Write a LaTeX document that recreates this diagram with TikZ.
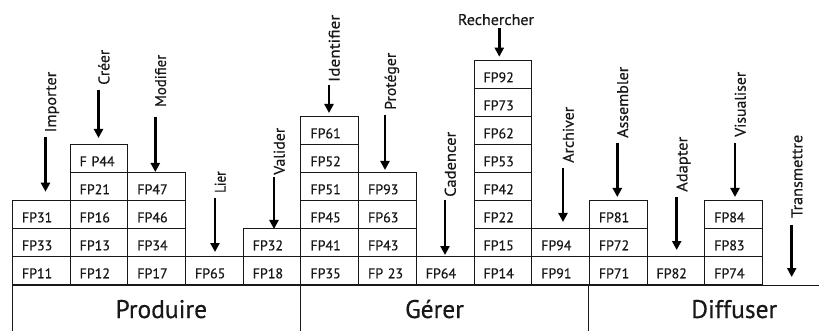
\documentclass[tikz,border=0pt]{standalone}
\usepackage{fontspec}
\setmainfont{PT Sans}[FakeBold=0.5]
\usetikzlibrary{arrows.meta}
\definecolor{ink}{HTML}{1A1718}
\newcommand{\fitlab}[2]{\resizebox{#1}{\height}{#2}}
\begin{document}
\begin{tikzpicture}[x=1pt,y=-1pt,
  fpbox/.style={draw=ink, line width=0.9pt, anchor=south west,
    minimum width=57.69pt, minimum height=28pt, inner xsep=9.5pt, inner ysep=0pt,
    text width=38.69pt, align=left, text height=15.4pt, text depth=0pt,
    font=\fontsize{14}{16}\selectfont, text=ink},
  vlab/.style={rotate=90, anchor=north west, inner sep=0pt,
    font=\fontsize{15.5}{18}\selectfont, text=ink},
  hlab/.style={anchor=base, inner sep=0pt, font=\fontsize{15.5}{18}\selectfont, text=ink},
  biglab/.style={anchor=base, inner sep=0pt, font=\fontsize{25.5}{30}\selectfont, text=ink},
  arr/.style={line width=2.6pt, draw=black, -{Triangle[length=9pt,width=9pt]}},
  baseline/.style={draw=ink, line width=0.9pt}]
\useasboundingbox (0,0) rectangle (819,331);
% stacks
\foreach \c/\lst in {1/{FP11,FP33,FP31},
                     2/{FP12,FP13,FP16,FP21,F P44},
                     3/{FP17,FP34,FP46,FP47},
                     4/{FP65},
                     5/{FP18,FP32},
                     6/{FP35,FP41,FP45,FP51,FP52,FP61},
                     7/{FP 23,FP43,FP63,FP93},
                     8/{FP64},
                     9/{FP14,FP15,FP22,FP42,FP53,FP62,FP73,FP92},
                     10/{FP91,FP94},
                     11/{FP71,FP72,FP81},
                     12/{FP82},
                     13/{FP74,FP83,FP84}}{
  \foreach \t [count=\r] in \lst {
    \node[fpbox, name=b\c-\r] at ({12+57.69*(\c-1)},{285-28*(\r-1)}) {\t};
  }
}
% base
\coordinate (bl) at (12,285);
\coordinate (br) at (819,285);
\coordinate (v1t) at (12,285);   \coordinate (v1b) at (12,335);
\coordinate (v2t) at (300.5,285); \coordinate (v2b) at (300.5,335);
\coordinate (v3t) at (588.9,285); \coordinate (v3b) at (588.9,335);
\draw[baseline] (bl) -- (br);
\draw[baseline] (v1t) -- (v1b);
\draw[baseline] (v2t) -- (v2b);
\draw[baseline] (v3t) -- (v3b);
\node[biglab] (prod) at (161.3,318) {Produire};
\node[biglab] (gerer) at (434.5,318) {Gérer};
\node[biglab] (diff) at (734.3,318) {Diffuser};
% labels
\node[vlab] (l1) at (45,132.5) {\fitlab{60.5pt}{Importer}};
\node[vlab] (l2) at (98,85) {\fitlab{35pt}{Créer}};
\node[vlab] (l3) at (154.8,107) {\fitlab{52pt}{Modifier}};
\node[vlab] (l4) at (214.5,193) {\fitlab{21.5pt}{Lier}};
\node[vlab] (l5) at (273.5,175) {\fitlab{47pt}{Valider}};
\node[vlab] (l6) at (328.5,82) {\fitlab{67pt}{Identifier}};
\node[vlab] (l7) at (384.5,110) {\fitlab{57pt}{Protéger}};
\node[vlab] (l8) at (444.5,197) {\fitlab{65pt}{Cadencer}};
\node[hlab] (l9) at (496,25) {\fitlab{76pt}{Rechercher}};
\node[vlab] (l10) at (562.5,163) {\fitlab{56pt}{Archiver}};
\node[vlab] (l11) at (616.8,138) {\fitlab{71pt}{Assembler}};
\node[vlab] (l12) at (676.2,192) {\fitlab{55pt}{Adapter}};
\node[vlab] (l13) at (734.5,137) {\fitlab{65pt}{Visualiser}};
\node[vlab] (l14) at (791.2,218) {\fitlab{83pt}{Transmettre}};
% arrows
\foreach \i/\x/\ys/\ye in {1/45.5/136.7/191.7, 2/98.5/90/138, 3/155.3/117/172,
    4/215/198/252, 5/274/177/229, 6/329/85/113, 7/385/115/170, 8/445/200/255,
    9/499.3/28.3/56.7, 10/563/168/222, 11/617.3/143/197, 12/676.7/197/250,
    13/735/143/197, 14/791.7/225/277}{
  \coordinate (a\i s) at (\x,\ys);
  \coordinate (a\i e) at (\x,\ye);
  \draw[arr] (a\i s) -- (a\i e);
}
\end{tikzpicture}
\end{document}
